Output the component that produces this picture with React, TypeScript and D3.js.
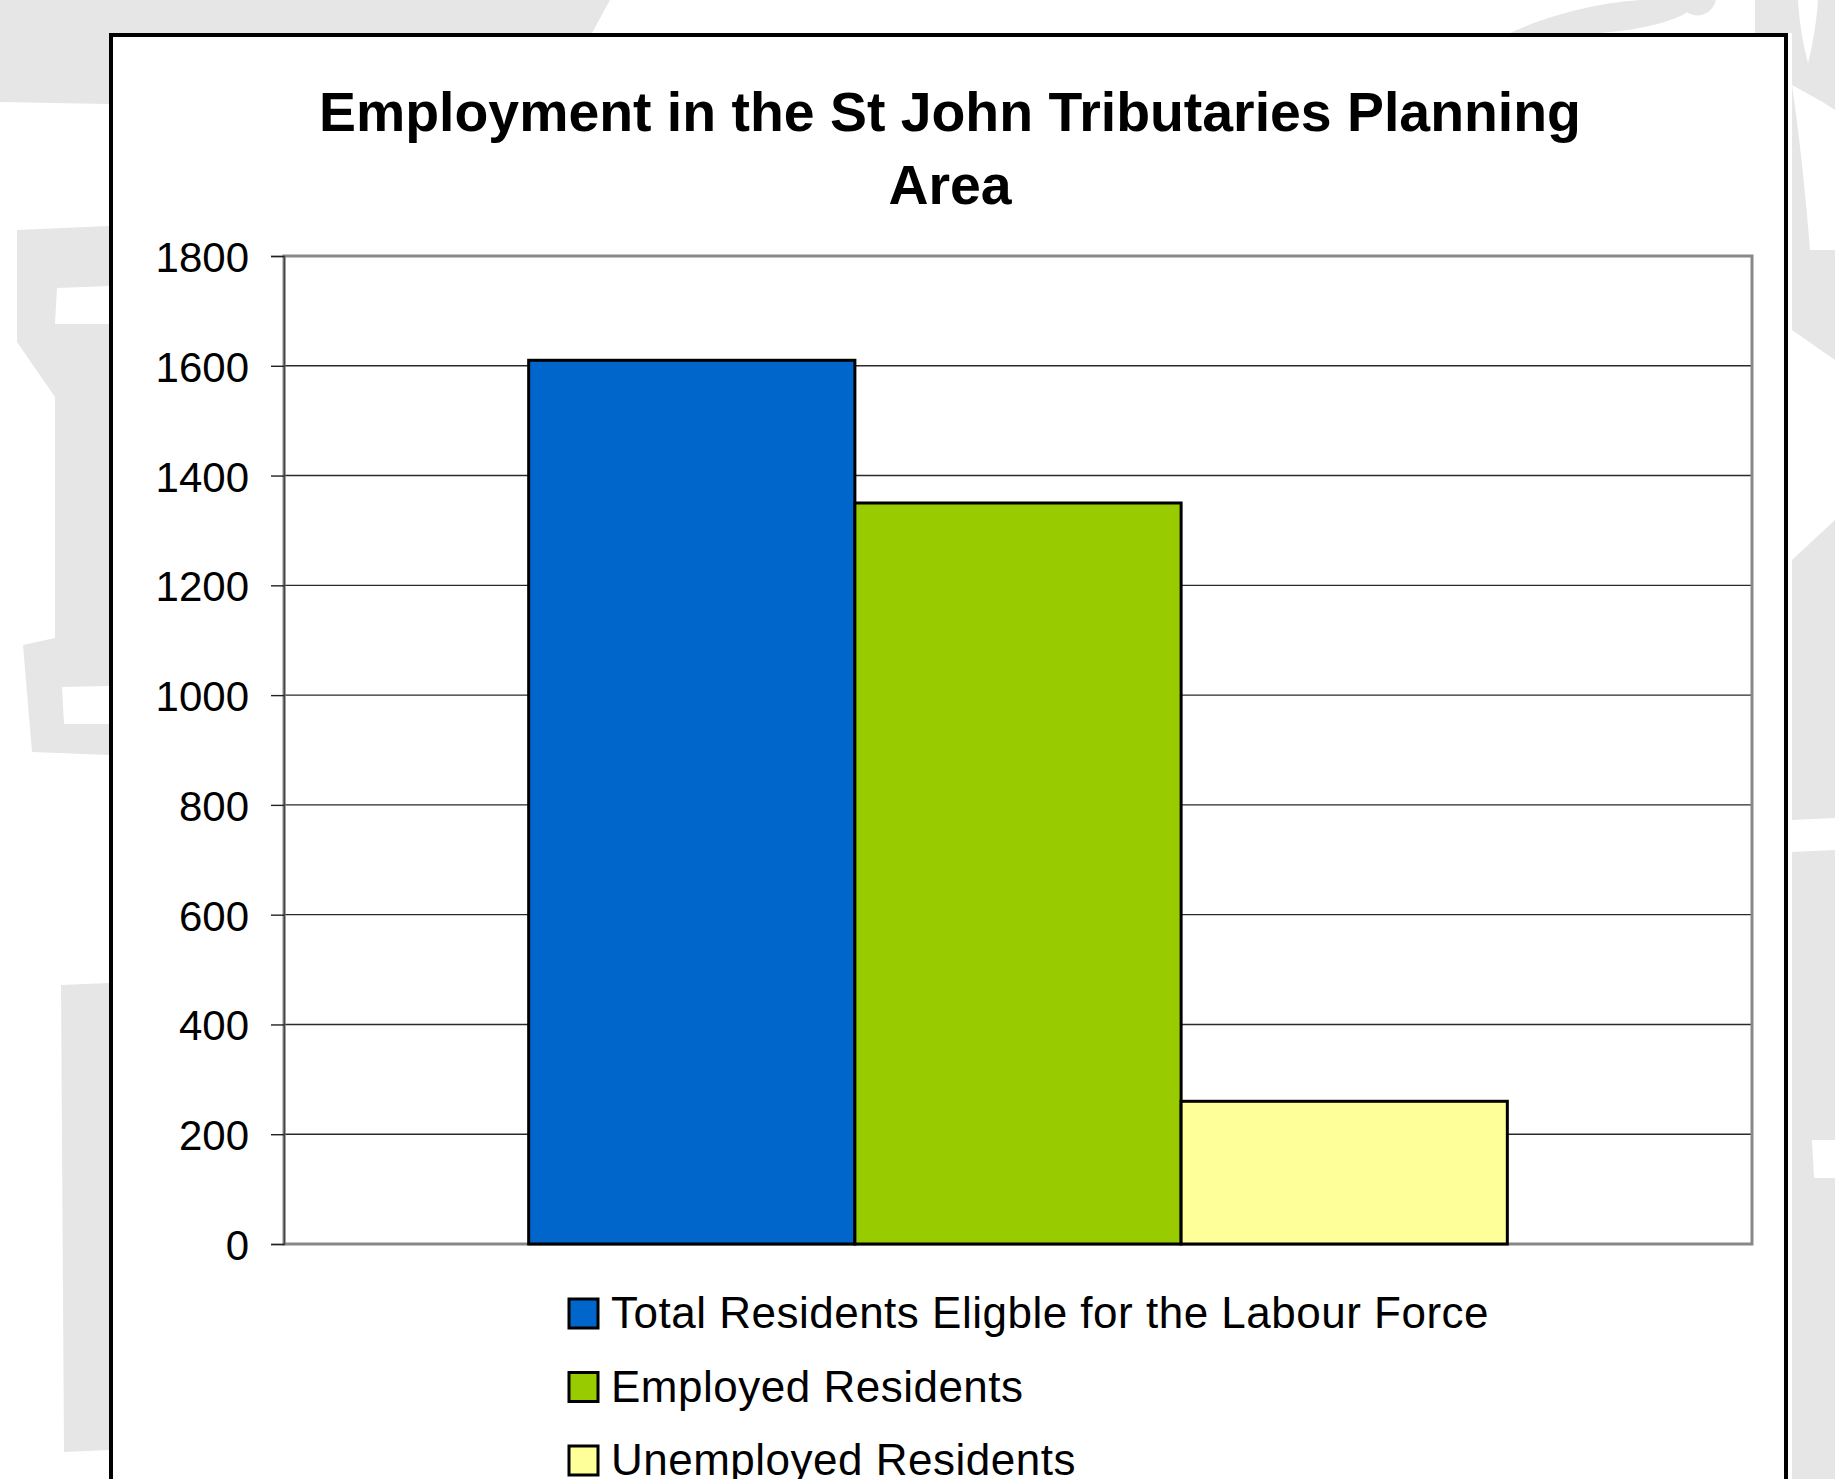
import { useEffect, useRef } from 'react';
import * as d3 from 'd3';

const categories = ['St John Tributaries Planning Area'];
const seriesNames = [
  'Total Residents Eligble for the Labour Force',
  'Employed Residents',
  'Unemployed Residents',
];
const seriesValues = [1610, 1350, 260];
const seriesColors = ['#0066cc', '#99cc00', '#ffff99'];
const yTicks = [0, 200, 400, 600, 800, 1000, 1200, 1400, 1600, 1800];
const titleLines = ['Employment in the St John Tributaries Planning', 'Area'];

const WIDTH = 1835;
const HEIGHT = 1479;
const FONT = '"Liberation Sans", Arial, Helvetica, sans-serif';

// light grey watermark around the chart frame
const watermark = [
  'M0,0 L610,0 L592,33 L0,33 Z',
  'M0,0 L109,0 L109,104 L0,102 Z',
  'M17,230 L109,226 L109,755 L32,752 L23,645 L55,638 L55,397 L17,342 Z',
  'M61,985 L109,983 L109,1450 L64,1452 Z',
  'M1510,33 C1560,10 1610,2 1640,0 L1700,0 C1690,20 1640,30 1600,33 Z',
  'M1680,0 L1716,0 C1712,14 1700,18 1690,14 C1684,10 1681,5 1680,0 Z',
  'M1755,0 L1835,0 L1835,1479 L1792,1479 L1792,33 L1755,33 Z',
];
const watermarkHoles = [
  'M57,288 L109,286 L109,324 L55,324 Z',
  'M62,687 L109,686 L109,724 L64,724 Z',
  'M1798,0 L1818,0 C1816,30 1810,55 1808,63 C1803,45 1799,20 1798,0 Z',
  'M1792,85 C1800,140 1806,200 1810,250 L1835,250 L1835,110 C1820,100 1805,92 1792,85 Z',
  'M1792,330 L1835,360 L1835,520 L1792,560 Z',
  'M1792,820 L1835,818 L1835,850 L1792,852 Z',
  'M1812,1140 L1835,1140 L1835,1178 L1814,1178 Z',
];

export default function App() {
  const svgRef = useRef<SVGSVGElement>(null);

  useEffect(() => {
    const svg = d3.select(svgRef.current);
    svg.selectAll('*').remove();

    svg.append('rect').attr('width', WIDTH).attr('height', HEIGHT).attr('fill', '#ffffff');

    svg.append('g')
      .selectAll('path')
      .data(watermark)
      .enter().append('path')
      .attr('d', d => d)
      .attr('fill', '#e6e6e6');

    svg.append('g')
      .selectAll('path')
      .data(watermarkHoles)
      .enter().append('path')
      .attr('d', d => d)
      .attr('fill', '#ffffff');

    // chart frame
    svg.append('rect')
      .attr('x', 111)
      .attr('y', 35)
      .attr('width', 1675)
      .attr('height', 1600)
      .attr('fill', '#ffffff')
      .attr('stroke', '#000')
      .attr('stroke-width', 4);

    const margin = { left: 284, top: 256, right: 1752, bottom: 1244 };

    const x0 = d3.scaleBand()
      .domain(categories)
      .range([margin.left, margin.right])
      .paddingInner(0)
      .paddingOuter(0.25);

    const x1 = d3.scaleBand()
      .domain(seriesNames)
      .range([0, x0.bandwidth()])
      .padding(0);

    const y = d3.scaleLinear()
      .domain([0, 1800])
      .range([margin.bottom, margin.top]);

    // title
    svg.append('text')
      .attr('x', 950)
      .attr('y', 131)
      .attr('text-anchor', 'middle')
      .style('font-family', FONT)
      .style('font-size', '55.4px')
      .style('font-weight', 'bold')
      .selectAll('tspan')
      .data(titleLines)
      .enter().append('tspan')
      .attr('x', 950)
      .attr('dy', (d, i) => (i === 0 ? 0 : 73))
      .text(d => d);

    // gridlines
    svg.append('g')
      .selectAll('line')
      .data(yTicks.filter(t => t > 0 && t < 1800))
      .enter().append('line')
      .attr('x1', margin.left)
      .attr('x2', margin.right)
      .attr('y1', d => y(d))
      .attr('y2', d => y(d))
      .attr('stroke', '#2a2a2a')
      .attr('stroke-width', 1.4);

    // plot area border
    svg.append('rect')
      .attr('x', margin.left)
      .attr('y', margin.top)
      .attr('width', margin.right - margin.left)
      .attr('height', margin.bottom - margin.top)
      .attr('fill', 'none')
      .attr('stroke', '#888888')
      .attr('stroke-width', 3);

    // y axis
    const yAxis = d3.axisLeft(y)
      .tickValues(yTicks)
      .tickSize(13)
      .tickPadding(22)
      .tickFormat(d3.format('d'));

    const axisG = svg.append('g')
      .attr('transform', `translate(${margin.left},0)`)
      .call(yAxis);

    axisG.select('.domain')
      .attr('stroke', '#444')
      .attr('stroke-width', 1.5);
    axisG.selectAll('.tick line')
      .attr('stroke', '#222')
      .attr('stroke-width', 1.4);
    axisG.selectAll('.tick text')
      .attr('fill', '#000')
      .attr('dy', '0.37em')
      .style('font-family', FONT)
      .style('font-size', '42px');

    // bars
    svg.append('g')
      .selectAll('rect')
      .data(seriesNames.map((name, i) => ({ name, value: seriesValues[i], color: seriesColors[i] })))
      .enter().append('rect')
      .attr('x', d => (x0(categories[0]) ?? 0) + (x1(d.name) ?? 0))
      .attr('y', d => y(d.value))
      .attr('width', x1.bandwidth())
      .attr('height', d => y(0) - y(d.value))
      .attr('fill', d => d.color)
      .attr('stroke', '#000')
      .attr('stroke-width', 3);

    // legend
    const legend = svg.append('g')
      .selectAll('g')
      .data(seriesNames)
      .enter().append('g')
      .attr('transform', (d, i) => `translate(569,${1299 + i * 73.5})`);

    legend.append('rect')
      .attr('width', 29)
      .attr('height', 29)
      .attr('fill', (d, i) => seriesColors[i])
      .attr('stroke', '#000')
      .attr('stroke-width', 3);

    legend.append('text')
      .attr('x', 42)
      .attr('y', 29)
      .style('font-family', FONT)
      .style('font-size', '44px')
      .style('letter-spacing', '0.5px')
      .text(d => d);
  }, []);

  return (
    <svg
      ref={svgRef}
      width={WIDTH}
      height={HEIGHT}
      style={{ position: 'absolute', left: 0, top: 0, display: 'block' }}
    ></svg>
  );
}
